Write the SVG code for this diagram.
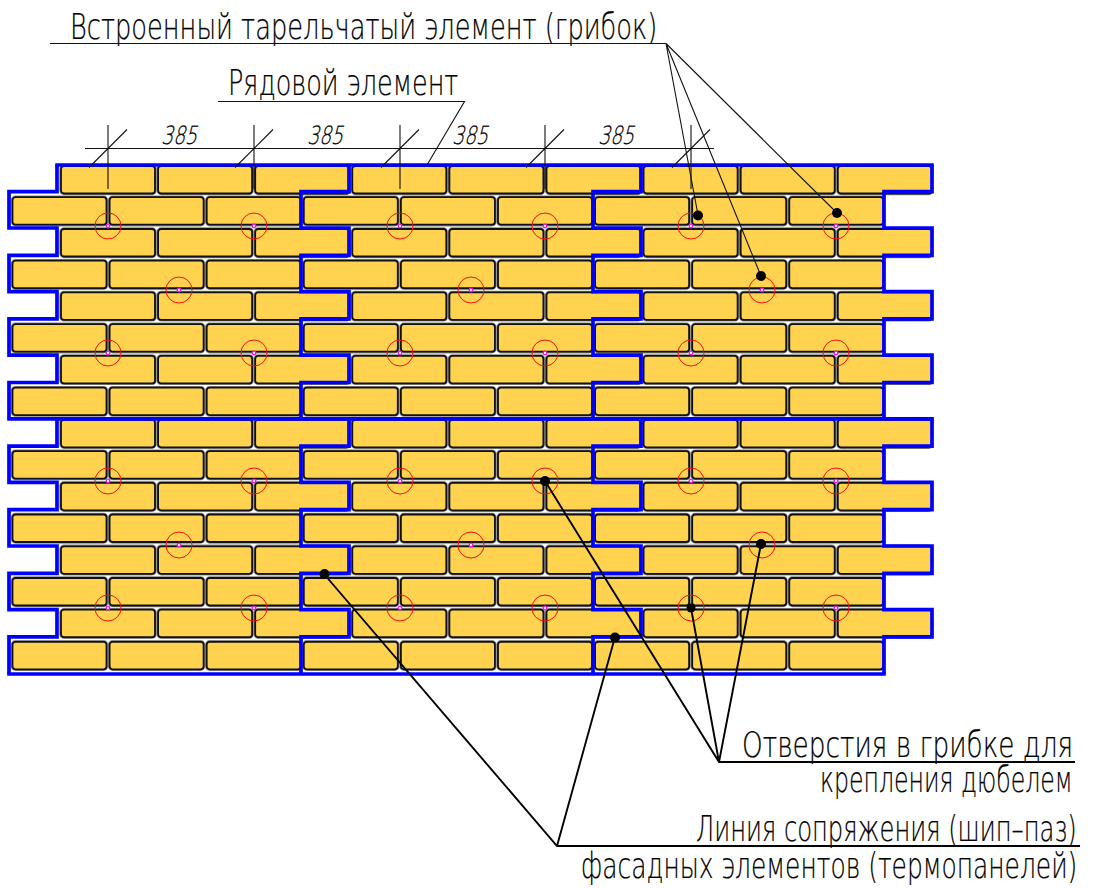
<svg xmlns="http://www.w3.org/2000/svg" width="1093" height="888" viewBox="0 0 1093 888">
<style>
.t{font-family:"DejaVu Sans","Liberation Sans",sans-serif;font-weight:200;font-size:36px;fill:#000;stroke:#000;stroke-width:.25}
.d{font-family:"DejaVu Sans","Liberation Sans",sans-serif;font-weight:200;font-size:25px;fill:#000;stroke:#000;stroke-width:.25}
.halo{fill:none;stroke:#8a8a8a;stroke-width:3.4}
.face{fill:#ffd34f;stroke:#111;stroke-width:1.8}
.blue{fill:none;stroke:#0000ff;stroke-width:3.7}
.ring{fill:none;stroke:#f01010;stroke-width:1}
.hole{fill:#fff;stroke:#f010f0;stroke-width:1.3}
.thin{fill:none;stroke:#111;stroke-width:1.1}
.thick{fill:none;stroke:#000;stroke-width:1.9}
.dot{fill:#000}
</style>
<defs>
<g id="brick"><rect class="halo" x="0" y="0" width="94" height="27.5" rx="3"/><rect class="face" x="0" y="0" width="94" height="27.5" rx="3"/></g>
<g id="rowA"><use href="#brick" x="61"/><use href="#brick" x="158.1"/><use href="#brick" x="255.2"/><use href="#brick" x="352.3"/><use href="#brick" x="449.4"/><use href="#brick" x="546.5"/><use href="#brick" x="643.6"/><use href="#brick" x="740.7"/><use href="#brick" x="837.8"/></g>
<g id="rowB"><use href="#brick" x="12.5"/><use href="#brick" x="109.6"/><use href="#brick" x="206.7"/><use href="#brick" x="303.8"/><use href="#brick" x="400.9"/><use href="#brick" x="498"/><use href="#brick" x="595.1"/><use href="#brick" x="692.2"/><use href="#brick" x="789.3"/></g>
<path id="zig" d="M57 165V191.7H9V228H57V255.3H9V291.6H57V318.9H9V355.2H57V382.5H9V418.8M57 418.8V446.1H9V482.4H57V509.7H9V546H57V573.3H9V609.6H57V636.9H9V674"/>
<g id="mark"><circle class="ring" r="13"/><circle class="hole" r="1.8"/></g>
</defs>
<g id="bricks">
<use href="#rowA" y="166"/><use href="#rowB" y="197.2"/><use href="#rowA" y="229"/><use href="#rowB" y="260.7"/>
<use href="#rowA" y="292.4"/><use href="#rowB" y="324.2"/><use href="#rowA" y="355.9"/><use href="#rowB" y="387.6"/>
<use href="#rowA" y="419.8"/><use href="#rowB" y="451.1"/><use href="#rowA" y="482.8"/><use href="#rowB" y="514.5"/>
<use href="#rowA" y="546.3"/><use href="#rowB" y="578"/><use href="#rowA" y="609.7"/><use href="#rowB" y="641.8"/>
</g>
<g id="panels">
<use href="#zig" class="blue"/><use href="#zig" class="blue" x="292"/><use href="#zig" class="blue" x="584"/><use href="#zig" class="blue" x="875"/>
<path class="blue" d="M55.200 165H933.800M7.200 418.8H933.800M7.200 674H885.800"/>
</g>
<g id="marks">
<use href="#mark" x="108" y="226"/><use href="#mark" x="254" y="226"/><use href="#mark" x="400" y="226"/><use href="#mark" x="545" y="226"/><use href="#mark" x="691" y="226"/><use href="#mark" x="836" y="226"/>
<use href="#mark" x="179" y="290"/><use href="#mark" x="471" y="290"/><use href="#mark" x="762" y="290"/>
<use href="#mark" x="108" y="353"/><use href="#mark" x="254" y="353"/><use href="#mark" x="400" y="353"/><use href="#mark" x="545" y="353"/><use href="#mark" x="691" y="353"/><use href="#mark" x="836" y="353"/>
<use href="#mark" x="108" y="481"/><use href="#mark" x="254" y="481"/><use href="#mark" x="400" y="481"/><use href="#mark" x="545" y="481"/><use href="#mark" x="691" y="481"/><use href="#mark" x="836" y="481"/>
<use href="#mark" x="179" y="545"/><use href="#mark" x="471" y="545"/><use href="#mark" x="762" y="545"/>
<use href="#mark" x="108" y="608"/><use href="#mark" x="254" y="608"/><use href="#mark" x="400" y="608"/><use href="#mark" x="545" y="608"/><use href="#mark" x="691" y="608"/><use href="#mark" x="836" y="608"/>
</g>
<g id="dimensions">
<path class="thin" d="M85 148.500H714M108 125V189M254 125V189M400 125V189M545 125V189M691 125V189M89 167.500L127 129.500M235 167.500L273 129.500M381 167.500L419 129.500M526 167.500L564 129.500M672 167.500L710 129.500"/>
<text class="d" transform="translate(161 144) skewX(-14) scale(.85 1)" textLength="42" lengthAdjust="spacingAndGlyphs">385</text>
<text class="d" transform="translate(307 144) skewX(-14) scale(.85 1)" textLength="42" lengthAdjust="spacingAndGlyphs">385</text>
<text class="d" transform="translate(452 144) skewX(-14) scale(.85 1)" textLength="42" lengthAdjust="spacingAndGlyphs">385</text>
<text class="d" transform="translate(598 144) skewX(-14) scale(.85 1)" textLength="42" lengthAdjust="spacingAndGlyphs">385</text>
</g>
<g id="connectors">
<path class="thin" d="M50 43.500H666M666 43.500L698 215M666 43.500L761 276M666 43.500L837 213M218 101.500H464.500L427 165"/>
<path class="thick" d="M1075 762H719L545 481M719 762L691 608M719 762L761 544M1080 846H557L324 574M557 846L615 637"/>
<circle class="dot" cx="698" cy="215.500" r="5"/><circle class="dot" cx="837" cy="213" r="5"/><circle class="dot" cx="761" cy="276" r="5"/>
<circle class="dot" cx="545" cy="481" r="5"/><circle class="dot" cx="691" cy="608" r="4.500"/><circle class="dot" cx="761" cy="544" r="5"/>
<circle class="dot" cx="324.500" cy="574" r="5"/><circle class="dot" cx="615" cy="637.500" r="5"/>
</g>
<g id="labels">
<text class="t" transform="translate(70 39) scale(.7 1)" textLength="839" lengthAdjust="spacingAndGlyphs">Встроенный тарельчатый элемент (грибок)</text>
<text class="t" transform="translate(228 95) scale(.7 1)" textLength="329" lengthAdjust="spacingAndGlyphs">Рядовой элемент</text>
<text class="t" transform="translate(742 757) scale(.7 1)" textLength="473" lengthAdjust="spacingAndGlyphs">Отверстия в грибке для</text>
<text class="t" transform="translate(820 792) scale(.7 1)" textLength="361" lengthAdjust="spacingAndGlyphs">крепления дюбелем</text>
<text class="t" transform="translate(696 841) scale(.7 1)" textLength="544" lengthAdjust="spacingAndGlyphs">Линия сопряжения (шип–паз)</text>
<text class="t" transform="translate(581 878) scale(.7 1)" textLength="709" lengthAdjust="spacingAndGlyphs">фасадных элементов (термопанелей)</text>
</g>
</svg>
